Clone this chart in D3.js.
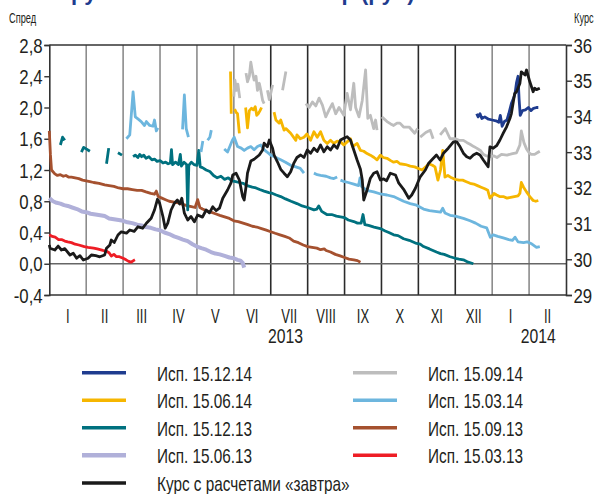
<!DOCTYPE html>
<html><head><meta charset="utf-8">
<script src="https://cdn.jsdelivr.net/npm/d3@7"></script>
<style>
body{margin:0;background:#fff;}
svg{display:block;font-family:"Liberation Sans",Arial,sans-serif;}
</style></head>
<body><svg id="c" width="598" height="494"></svg>
<script>
// ---- data (t = months since 1 Jan 2013) ----
const monthLabels = ["I","II","III","IV","V","VI","VII","VIII","IX","X","XI","XII","I","II"];
const spreadTicks = [-0.4,0,0.4,0.8,1.2,1.6,2.0,2.4,2.8];
const kursTicks = [29,30,31,32,33,34,35,36];
const yearLabels = [["2013",6.4],["2014",13.25]];

const s150313 = [[0,0.37],[0.08,0.35],[0.16,0.34],[0.25,0.31],[0.33,0.31],[0.42,0.29],[0.5,0.28],[0.6,0.27],[0.7,0.25],[0.8,0.24],[0.95,0.22],[1.05,0.21],[1.2,0.20],[1.3,0.19],[1.45,0.17],[1.55,0.16],[1.62,0.14],[1.68,0.10],[1.75,0.12],[1.82,0.09],[1.9,0.09],[2.0,0.07],[2.08,0.05],[2.15,0.03],[2.22,0.02],[2.28,0.04],[2.32,0.05]];

const s150613 = [[0,0.84],[0.1,0.80],[0.2,0.78],[0.3,0.77],[0.4,0.75],[0.5,0.74],[0.62,0.72],[0.75,0.70],[0.88,0.67],[1.0,0.66],[1.12,0.64],[1.25,0.63],[1.38,0.62],[1.5,0.61],[1.62,0.58],[1.75,0.57],[1.88,0.56],[2.0,0.55],[2.12,0.53],[2.25,0.52],[2.38,0.50],[2.5,0.49],[2.62,0.47],[2.75,0.46],[2.88,0.44],[3.0,0.43],[3.12,0.40],[3.25,0.38],[3.38,0.35],[3.5,0.33],[3.62,0.31],[3.75,0.29],[3.88,0.25],[4.0,0.22],[4.12,0.20],[4.25,0.18],[4.38,0.15],[4.5,0.13],[4.62,0.12],[4.75,0.10],[4.88,0.08],[5.0,0.07],[5.1,0.05],[5.18,0.04],[5.24,0.01],[5.28,-0.05]];

const s150913 = [[0,1.70],[0.03,1.40],[0.06,1.20],[0.15,1.15],[0.22,1.13],[0.3,1.14],[0.38,1.12],[0.45,1.13],[0.52,1.11],[0.6,1.11],[0.7,1.10],[0.8,1.09],[0.9,1.07],[1.0,1.06],[1.1,1.05],[1.2,1.04],[1.35,1.03],[1.5,1.01],[1.62,1.00],[1.75,0.99],[1.88,0.97],[2.0,0.96],[2.12,0.96],[2.25,0.95],[2.38,0.94],[2.5,0.94],[2.62,0.92],[2.75,0.90],[2.85,0.89],[2.9,0.93],[2.95,0.86],[3.05,0.84],[3.15,0.82],[3.25,0.80],[3.38,0.79],[3.5,0.78],[3.62,0.76],[3.75,0.74],[3.85,0.73],[3.95,0.72],[4.02,0.82],[4.08,0.72],[4.15,0.70],[4.25,0.68],[4.38,0.66],[4.5,0.64],[4.62,0.62],[4.75,0.60],[4.88,0.58],[5.0,0.55],[5.12,0.54],[5.25,0.52],[5.38,0.50],[5.5,0.48],[5.62,0.47],[5.75,0.45],[5.88,0.43],[6.0,0.41],[6.12,0.39],[6.25,0.37],[6.38,0.35],[6.5,0.33],[6.62,0.29],[6.75,0.27],[6.88,0.24],[7.0,0.22],[7.12,0.21],[7.25,0.20],[7.35,0.18],[7.45,0.19],[7.5,0.17],[7.62,0.15],[7.75,0.12],[7.88,0.10],[8.0,0.08],[8.12,0.06],[8.25,0.05],[8.35,0.04],[8.43,0.02]];

const s151213 = [[0.30,1.52],[0.36,1.62],[0.42,1.58],[0.42,null],
[0.87,1.43],[0.93,1.49],[1.0,1.47],[1.1,1.44],[1.1,null],
[1.55,1.28],[1.61,1.48],[1.61,null],
[1.86,1.42],[1.97,1.39],[1.97,null],
[2.27,1.37],[2.33,1.39],[2.4,1.36],[2.45,1.40],[2.5,1.37],[2.56,1.39],[2.62,1.35],[2.7,1.37],[2.78,1.33],[2.85,1.34],[2.92,1.31],[3.0,1.32],[3.08,1.29],[3.15,1.30],[3.22,1.28],[3.28,1.29],[3.31,1.46],[3.34,1.27],[3.42,1.30],[3.5,1.27],[3.55,1.40],[3.58,1.25],[3.65,1.30],[3.72,1.27],[3.75,0.69],[3.78,1.26],[3.85,1.30],[3.92,1.27],[4.0,1.26],[4.05,1.45],[4.09,1.24],[4.15,1.23],[4.25,1.20],[4.35,1.18],[4.45,1.13],[4.55,1.10],[4.65,1.12],[4.75,1.08],[4.85,1.10],[4.95,1.06],[5.05,1.05],[5.15,1.04],[5.25,1.03],[5.36,1.0],[5.5,0.98],[5.6,0.97],[5.7,0.95],[5.82,0.93],[5.95,0.91],[6.05,0.90],[6.15,0.88],[6.27,0.86],[6.4,0.83],[6.55,0.80],[6.71,0.77],[6.85,0.74],[7.0,0.72],[7.17,0.69],[7.25,0.70],[7.3,0.74],[7.38,0.67],[7.52,0.63],[7.65,0.63],[7.78,0.61],[7.89,0.60],[8.0,0.59],[8.1,0.56],[8.25,0.54],[8.35,0.52],[8.45,0.52],[8.5,0.63],[8.55,0.50],[8.65,0.49],[8.8,0.47],[8.97,0.45],[9.1,0.42],[9.2,0.40],[9.33,0.37],[9.45,0.36],[9.6,0.32],[9.75,0.30],[9.95,0.26],[10.05,0.25],[10.14,0.22],[10.3,0.19],[10.49,0.15],[10.6,0.13],[10.7,0.12],[10.86,0.09],[11.0,0.07],[11.1,0.06],[11.22,0.05],[11.35,0.02],[11.49,0.0]];

const s150314 = [[2.09,1.60],[2.18,1.65],[2.27,2.20],[2.33,1.88],[2.41,1.85],[2.49,1.82],[2.58,1.77],[2.63,1.82],[2.72,1.77],[2.81,1.76],[2.85,1.84],[2.90,1.70],[2.94,1.74],[2.94,null],
[3.61,1.72],[3.66,2.16],[3.71,1.73],[3.77,1.62],[3.77,null],
[4.11,1.43],[4.16,1.57],[4.16,null],
[4.29,1.58],[4.35,1.62],[4.39,1.71],[4.39,null],
[4.74,1.47],[4.83,1.43],[4.96,1.58],[5.01,1.62],[5.10,1.50],[5.2,1.48],[5.28,1.45],[5.37,1.48],[5.46,1.50],[5.55,1.46],[5.64,1.50],[5.73,1.52],[5.82,1.46],[5.9,1.43],[6.0,1.39],[6.1,1.37],[6.18,1.35],[6.27,1.33],[6.4,1.30],[6.54,1.26],[6.68,1.24],[6.8,1.22],[6.9,1.16],[6.9,null],
[7.17,1.16],[7.26,1.14],[7.35,1.13],[7.5,1.12],[7.62,1.10],[7.71,1.09],[7.80,1.11],[7.8,null],
[7.89,1.07],[8.0,1.05],[8.1,1.04],[8.25,1.02],[8.38,1.00],[8.42,1.10],[8.46,0.99],[8.6,0.94],[8.79,0.92],[9.0,0.89],[9.15,0.88],[9.33,0.86],[9.47,0.83],[9.6,0.80],[9.78,0.77],[9.95,0.75],[10.14,0.70],[10.3,0.68],[10.45,0.67],[10.6,0.66],[10.66,0.71],[10.72,0.65],[10.86,0.62],[11.0,0.61],[11.22,0.58],[11.4,0.55],[11.55,0.52],[11.7,0.48],[11.85,0.46],[11.95,0.34],[12.03,0.37],[12.15,0.35],[12.3,0.33],[12.45,0.31],[12.55,0.30],[12.62,0.34],[12.7,0.28],[12.85,0.27],[12.95,0.28],[13.05,0.26],[13.2,0.21],[13.29,0.22]];

const s150614 = [[4.91,2.46],[4.93,1.92],[4.93,null],
[5.02,1.98],[5.06,1.94],[5.1,1.92],[5.15,1.67],[5.15,null],
[5.32,2.0],[5.37,1.74],[5.42,1.96],[5.48,1.99],[5.53,1.97],[5.58,2.01],[5.62,1.90],[5.66,1.92],[5.71,1.96],[5.75,2.0],[5.75,null],
[6.09,1.94],[6.14,1.84],[6.23,1.80],[6.27,1.84],[6.36,1.71],[6.41,1.73],[6.54,1.67],[6.68,1.58],[6.71,1.65],[6.8,1.60],[6.9,1.62],[6.98,1.66],[7.08,1.58],[7.17,1.69],[7.26,1.62],[7.35,1.69],[7.44,1.58],[7.53,1.54],[7.62,1.58],[7.71,1.54],[7.8,1.57],[7.89,1.56],[7.98,1.52],[8.07,1.56],[8.16,1.60],[8.22,1.50],[8.34,1.54],[8.43,1.45],[8.52,1.44],[8.61,1.41],[8.7,1.39],[8.8,1.36],[8.88,1.33],[8.97,1.39],[9.05,1.36],[9.15,1.35],[9.25,1.32],[9.33,1.30],[9.42,1.31],[9.5,1.28],[9.65,1.27],[9.78,1.25],[9.9,1.24],[10.0,1.22],[10.1,1.20],[10.2,1.24],[10.28,1.28],[10.38,1.26],[10.45,1.24],[10.53,1.07],[10.6,1.2],[10.66,1.45],[10.72,1.11],[10.8,1.13],[10.9,1.10],[11.0,1.08],[11.1,1.07],[11.2,1.07],[11.3,1.05],[11.4,1.03],[11.5,1.02],[11.6,1.00],[11.7,0.98],[11.8,0.96],[11.88,0.94],[11.94,0.84],[12.0,0.87],[12.05,0.90],[12.12,0.88],[12.2,0.86],[12.3,0.86],[12.4,0.84],[12.5,0.85],[12.6,0.86],[12.7,0.87],[12.75,0.90],[12.79,1.04],[12.85,0.98],[12.93,0.92],[13.02,0.86],[13.11,0.81],[13.18,0.80],[13.25,0.81]];

const s150914 = [[5.0,2.14],[5.03,2.35],[5.07,2.22],[5.11,2.30],[5.16,2.12],[5.16,null],
[5.33,2.44],[5.37,2.33],[5.42,2.40],[5.46,2.58],[5.51,2.44],[5.55,2.35],[5.6,2.40],[5.64,2.22],[5.69,2.31],[5.73,2.22],[5.78,2.09],[5.82,2.05],[5.82,null],
[5.91,2.22],[5.96,2.10],[6.0,2.18],[6.05,2.29],[6.05,null],
[6.32,2.22],[6.41,2.46],[6.41,null],
[6.95,2.05],[7.04,2.0],[7.13,2.07],[7.22,2.02],[7.31,2.12],[7.4,2.03],[7.49,1.88],[7.58,1.97],[7.67,2.05],[7.76,1.92],[7.85,2.0],[7.98,1.90],[8.07,2.18],[8.16,1.97],[8.25,2.31],[8.3,2.0],[8.39,1.88],[8.48,2.09],[8.57,2.48],[8.63,1.86],[8.7,1.90],[8.79,1.73],[8.84,1.84],[8.88,1.71],[8.88,null],
[9.01,1.88],[9.15,1.82],[9.25,1.79],[9.33,1.77],[9.42,1.80],[9.5,1.80],[9.6,1.75],[9.75,1.75],[9.9,1.67],[9.98,1.73],[9.98,null],
[10.05,1.62],[10.2,1.68],[10.32,1.71],[10.4,1.60],[10.4,null],
[10.59,1.65],[10.73,1.73],[10.86,1.60],[11.0,1.60],[11.1,1.58],[11.22,1.58],[11.32,1.55],[11.4,1.53],[11.5,1.50],[11.58,1.48],[11.68,1.45],[11.76,1.40],[11.85,1.38],[11.95,1.37],[12.05,1.38],[12.13,1.36],[12.25,1.40],[12.4,1.39],[12.55,1.41],[12.66,1.42],[12.75,1.52],[12.79,1.70],[12.86,1.55],[12.93,1.47],[13.0,1.42],[13.06,1.40],[13.15,1.40],[13.22,1.42],[13.29,1.44]];

const s151214 = [[11.58,1.92],[11.62,1.88],[11.67,1.92],[11.72,1.86],[11.8,1.88],[11.9,1.85],[12.0,1.84],[12.1,1.83],[12.18,1.81],[12.22,1.90],[12.27,1.76],[12.33,1.82],[12.4,1.84],[12.45,1.92],[12.52,2.05],[12.58,2.12],[12.62,2.18],[12.66,2.32],[12.7,2.40],[12.73,2.10],[12.76,1.90],[12.82,1.96],[12.9,1.97],[12.98,2.0],[13.05,1.96],[13.12,1.99],[13.2,2.0],[13.25,2.0]];

const kurs = [[0,30.40],[0.02,30.31],[0.15,30.26],[0.24,30.37],[0.33,30.26],[0.42,30.30],[0.56,30.12],[0.65,30.17],[0.74,30.03],[0.83,30.10],[0.92,29.98],[1.05,30.03],[1.14,30.12],[1.26,30.10],[1.37,30.07],[1.50,30.12],[1.55,30.31],[1.64,30.40],[1.68,30.54],[1.76,30.47],[1.86,30.68],[1.95,30.77],[2.09,30.73],[2.18,30.82],[2.30,30.78],[2.40,30.91],[2.53,30.87],[2.63,31.01],[2.76,31.15],[2.85,31.38],[2.93,31.68],[2.99,31.57],[3.08,31.19],[3.14,30.87],[3.21,31.01],[3.30,31.38],[3.39,31.57],[3.47,31.66],[3.53,31.55],[3.59,31.71],[3.66,31.29],[3.75,31.10],[3.84,31.20],[3.93,31.05],[4.02,31.24],[4.15,31.18],[4.25,31.38],[4.34,31.30],[4.43,31.47],[4.52,31.36],[4.61,31.43],[4.70,31.71],[4.83,31.94],[4.92,32.13],[4.97,32.36],[5.06,32.41],[5.15,32.22],[5.24,31.75],[5.28,31.66],[5.33,32.03],[5.37,32.41],[5.46,32.75],[5.55,32.80],[5.69,32.92],[5.78,33.06],[5.82,33.25],[5.91,33.15],[5.96,33.34],[6.05,33.11],[6.09,32.92],[6.18,32.73],[6.27,32.52],[6.36,32.41],[6.45,32.31],[6.54,32.45],[6.63,32.70],[6.71,32.85],[6.81,32.92],[6.90,32.85],[6.99,33.06],[7.08,32.97],[7.17,33.11],[7.26,33.02],[7.35,33.20],[7.44,33.01],[7.53,33.15],[7.62,33.06],[7.71,33.20],[7.80,33.11],[7.89,33.34],[7.98,33.39],[8.07,33.43],[8.16,33.34],[8.25,33.06],[8.34,32.78],[8.43,32.52],[8.48,32.22],[8.52,31.66],[8.61,31.94],[8.70,32.27],[8.79,32.41],[8.88,32.45],[8.97,32.22],[9.06,32.25],[9.14,32.20],[9.24,32.41],[9.38,32.36],[9.47,32.13],[9.60,31.96],[9.74,31.71],[9.82,31.80],[9.92,31.99],[10.05,32.31],[10.19,32.50],[10.28,32.69],[10.38,32.80],[10.49,32.92],[10.59,32.78],[10.68,32.97],[10.81,33.11],[10.95,33.29],[11.04,33.29],[11.13,33.15],[11.22,32.97],[11.31,32.87],[11.40,32.83],[11.49,32.92],[11.58,32.97],[11.67,32.92],[11.76,32.78],[11.89,32.59],[11.94,33.15],[12.03,33.11],[12.12,33.18],[12.21,33.34],[12.30,33.53],[12.39,33.71],[12.48,33.94],[12.52,34.08],[12.61,34.64],[12.66,34.69],[12.75,34.92],[12.79,35.25],[12.89,35.16],[12.93,35.30],[13.02,34.97],[13.11,34.69],[13.15,34.79],[13.20,34.75],[13.29,34.79]];

const legendItems = [
  ["Исп. 15.12.14","#1f3c8f",0,0],["Исп. 15.09.14","#bdbdbd",1,0],
  ["Исп. 15.06.14","#f6b600",0,1],["Исп. 15.03.14","#6db6de",1,1],
  ["Исп. 15.12.13","#00717f",0,2],["Исп. 15.09.13","#a5512f",1,2],
  ["Исп. 15.06.13","#b0b0d9",0,3],["Исп. 15.03.13","#ee1d25",1,3],
  ["Курс с расчетами «завтра»","#1a1a1a",0,4]
];

// ---- drawing ----
const svg = d3.select("#c");
const x = d3.scaleLinear().domain([0,14]).range([49.3,566]);
const yS = d3.scaleLinear().domain([-0.4,2.8]).range([295,45]);
const yK = d3.scaleLinear().domain([29,36]).range([295,45]);
const ink = "#231f20";

function ctext(px,py,sx,size,str,anchor){
  return svg.append("text").attr("transform",`translate(${px},${py}) scale(${sx},1)`)
    .attr("font-size",size).attr("fill",ink).attr("text-anchor",anchor||"start").text(str);
}

// title (cropped at top of the picture)
const title = svg.append("text").attr("y",0).attr("fill","#1f3c8f")
  .attr("font-weight","bold").attr("font-size",22);
title.append("tspan").attr("x",71).text("рубль и стоимость");
title.append("tspan").attr("x",282).text("сектор (руб)");

// vertical month gridlines
d3.range(1,14).forEach(i=>{
  svg.append("line").attr("x1",x(i)).attr("x2",x(i)).attr("y1",45).attr("y2",295)
    .attr("stroke",(i>=6&&i<=11)?"#2a2a2a":"#8c8c8c").attr("stroke-width",1.6);
});
// zero line
svg.append("line").attr("x1",x(0)).attr("x2",x(14)).attr("y1",yS(0)).attr("y2",yS(0))
  .attr("stroke","#666").attr("stroke-width",1.6);
// top & bottom frame
[45,295].forEach(yy=>svg.append("line").attr("x1",x(0)).attr("x2",x(14)).attr("y1",yy).attr("y2",yy)
  .attr("stroke","#333").attr("stroke-width",1.6));

// axes (lines and ticks by d3, labels condensed)
const fmt = d=>d3.format(".1f")(d).replace(".",",").replace("−","-");
const gL = svg.append("g").attr("transform",`translate(${x(0)},0)`)
  .call(d3.axisLeft(yS).tickValues(spreadTicks).tickFormat(fmt).tickSize(5));
const gR = svg.append("g").attr("transform",`translate(${x(14)},0)`)
  .call(d3.axisRight(yK).tickValues(kursTicks).tickSize(6));
[gL,gR].forEach(g=>{
  g.select(".domain").attr("stroke","#333").attr("stroke-width",1.6);
  g.selectAll(".tick line").attr("stroke","#333").attr("stroke-width",1.4);
  g.selectAll(".tick text").remove();
});
spreadTicks.forEach(v=>ctext(42.7,yS(v)+7.6,0.8,21,fmt(v),"end"));
kursTicks.forEach(v=>ctext(573.5,yK(v)+7.6,0.8,21,String(v),"start"));

// month labels
monthLabels.forEach((m,i)=>ctext(x(i+0.5),322.5,0.62,21,m,"middle"));
yearLabels.forEach(([t,pos])=>ctext(x(pos),342.5,0.75,21,t,"middle"));
ctext(9,23,0.66,14,"Спред");
ctext(574,23,0.66,14,"Курс");

// series
const lineS = d3.line().defined(d=>d[1]!=null).x(d=>x(d[0])).y(d=>yS(d[1]));
const lineK = d3.line().x(d=>x(d[0])).y(d=>yK(d[1]));
const plot = svg.append("g");
const seriesList = [
  [s150613,"#b0b0d9",4],[s150313,"#ee1d25",2.8],[s150913,"#a5512f",2.8],[s151213,"#00717f",2.8],
  [s150314,"#6db6de",2.8],[s150914,"#bdbdbd",2.8],[s150614,"#f6b600",2.8],[s151214,"#1f3c8f",2.8]
];
seriesList.forEach(([d,c,w])=>{
  plot.append("path").attr("d",lineS(d)).attr("fill","none").attr("stroke",c)
    .attr("stroke-width",w).attr("stroke-linejoin","round");
});
plot.append("path").attr("d",lineK(kurs)).attr("fill","none").attr("stroke","#1a1a1a")
  .attr("stroke-width",2.8).attr("stroke-linejoin","round");

// legend
const rowY = [372.7,400.2,427.7,455.3,483];
legendItems.forEach(([label,c,col,row])=>{
  const lx = col===0?82:353, tx = col===0?157:428;
  svg.append("line").attr("x1",lx).attr("x2",lx+44).attr("y1",rowY[row]).attr("y2",rowY[row])
    .attr("stroke",c).attr("stroke-width",label==="Исп. 15.06.13"?4.5:3.5);
  ctext(tx,rowY[row]+7.8,0.73,21,label);
});
</script></body></html>
